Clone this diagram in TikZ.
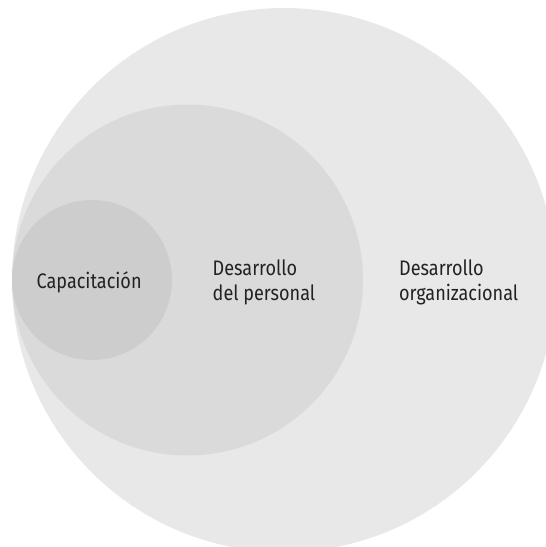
\documentclass[tikz,border=0pt]{standalone}
\usepackage{fontspec}
\setmainfont{Fira Sans}[FakeStretch=0.86]
\definecolor{orgfill}{HTML}{E8E8E8}
\definecolor{perfill}{HTML}{DADADA}
\definecolor{capfill}{HTML}{CDCDCD}
\definecolor{labelgray}{HTML}{222222}
\tikzset{
  ring/.style={circle, inner sep=0pt, draw=none},
  label text/.style={align=left, text=labelgray, font=\fontsize{21}{25}\selectfont, inner sep=0pt}
}
\begin{document}
\begin{tikzpicture}[x=1pt, y=-1pt]

        \useasboundingbox (0, 0) rectangle (546, 547);
        \begin{scope}
        \clip (0, 0) rectangle (546, 547);

        \node (org) at (284, 280) [ring, fill=orgfill, minimum size=544pt] {};
        \node (per) at (187.5, 280) [ring, fill=perfill, minimum size=351pt] {};
        \node (cap) at (92, 280) [ring, fill=capfill, minimum size=160pt] {};

        \end{scope}

        \node (cap-t) at (36.5, 288) [label text, anchor=base west] {Capacitación};
        \node (per-t) at (212.5, 300) [label text, anchor=base west] {Desarrollo\\del personal};
        \node (org-t) at (399, 300) [label text, anchor=base west] {Desarrollo\\organizacional};

    \end{tikzpicture}
\end{document}
